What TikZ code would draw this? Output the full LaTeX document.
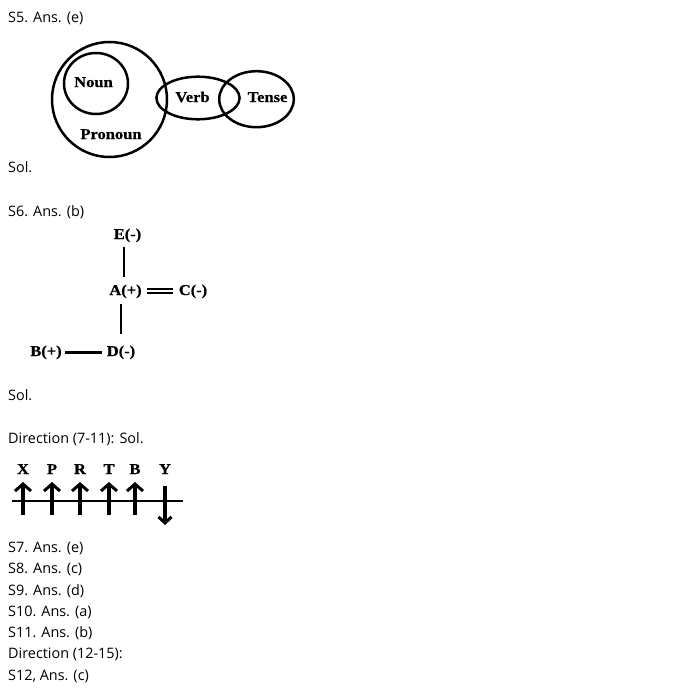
\documentclass[tikz,border=0pt]{standalone}
\usepackage{fontspec}
\setmainfont{Open Sans}
\newfontfamily\labfont{Liberation Serif}[FakeStretch=1.1,FakeBold=0.6]
\usetikzlibrary{arrows.meta,calc}
\tikzset{
  body/.style={anchor=base west, inner sep=0pt, font=\fontsize{14.4}{16}\selectfont},
  lab/.style={anchor=base, inner sep=0pt, font=\labfont\bfseries\fontsize{15}{17}\selectfont},
  ring/.style={draw, line width=2.5pt},
  bar/.style={line width=2.8pt},
  dbar/.style={double, double distance=2.2pt, line width=2pt},
  axis/.style={line width=2.6pt},
  uparr/.style={line width=3.2pt, -{Straight Barb[length=7pt,width=16pt,line width=3pt]}},
}
\begin{document}
\begin{tikzpicture}[x=1pt,y=-1pt]
\useasboundingbox (0,0) rectangle (689,693);
% text lines
\node[body] (t1) at (8,23) {S5. Ans. (e)};
\node[body] (t2) at (8,172) {Sol.};
\node[body] (t3) at (8,216) {S6. Ans. (b)};
\node[body] (t4) at (8,400) {Sol.};
\node[body] (t5) at (8,443) {Direction (7-11): Sol.};
\node[body] (t6) at (8,552) {S7. Ans. (e)};
\node[body] (t7) at (8,573) {S8. Ans. (c)};
\node[body] (t8) at (8,595) {S9. Ans. (d)};
\node[body] (t9) at (8,616) {S10. Ans. (a)};
\node[body] (t10) at (8,637) {S11. Ans. (b)};
\node[body] (t11) at (8,658) {Direction (12-15):};
\node[body] (t12) at (8,680) {S12, Ans. (c)};
% Venn
\draw[ring] (109.5,99.5) circle[radius=57.5];
\draw[ring] (96,83.5) ellipse[x radius=32,y radius=30.5];
\draw[ring] (198,98) ellipse[x radius=41.6,y radius=21.3];
\draw[ring] (256.5,99.2) ellipse[x radius=37.3,y radius=28];
\node[lab] (noun) at (93.5,87) {Noun};
\node[lab] (pronoun) at (111,139) {Pronoun};
\node[lab] (verb) at (192.5,102) {Verb};
\node[lab] (tense) at (267.5,102) {Tense};
% S6 diagram
\node[lab] (E) at (127.5,239) {E(-)};
\node[lab] (A) at (125.5,295) {A(+)};
\node[lab] (C) at (193,295) {C(-)};
\node[lab] (B) at (46,356) {B(+)};
\node[lab] (D) at (121,356) {D(-)};
\draw[bar] ([shift={(-3.5,5)}]E.south) -- ([shift={(-1.5,-7)}]A.north);
\draw[bar] ([shift={(-4.5,6)}]A.south) -- ([shift={(0,-11)}]D.north);
\draw[dbar] ([shift={(5,0)}]A.east) -- ([shift={(-6,0)}]C.west);
\draw[line width=2.6pt] ([shift={(3,0)}]B.east) -- ([shift={(-5,0)}]D.west);
% Direction diagram
\node[lab] (X) at (23,474) {X};
\node[lab] (P) at (52,474) {P};
\node[lab] (R) at (80,474) {R};
\node[lab] (T) at (109,474) {T};
\node[lab] (Bb) at (135,474) {B};
\node[lab] (Y) at (165,474) {Y};
\coordinate (L) at (12,501);
\coordinate (Rr) at (183,501);
\draw[axis] (L) -- (Rr);
\foreach \n in {X,P,R,T,Bb}{
  \draw[uparr] ([shift={(0,41)}]\n.base) -- ([shift={(0,8)}]\n.base);
}
\draw[line width=3.2pt, -{Straight Barb[length=6pt,width=13pt,line width=3pt]}] ([shift={(0,12)}]Y.base) -- ([shift={(0,51)}]Y.base);
\end{tikzpicture}
\end{document}
